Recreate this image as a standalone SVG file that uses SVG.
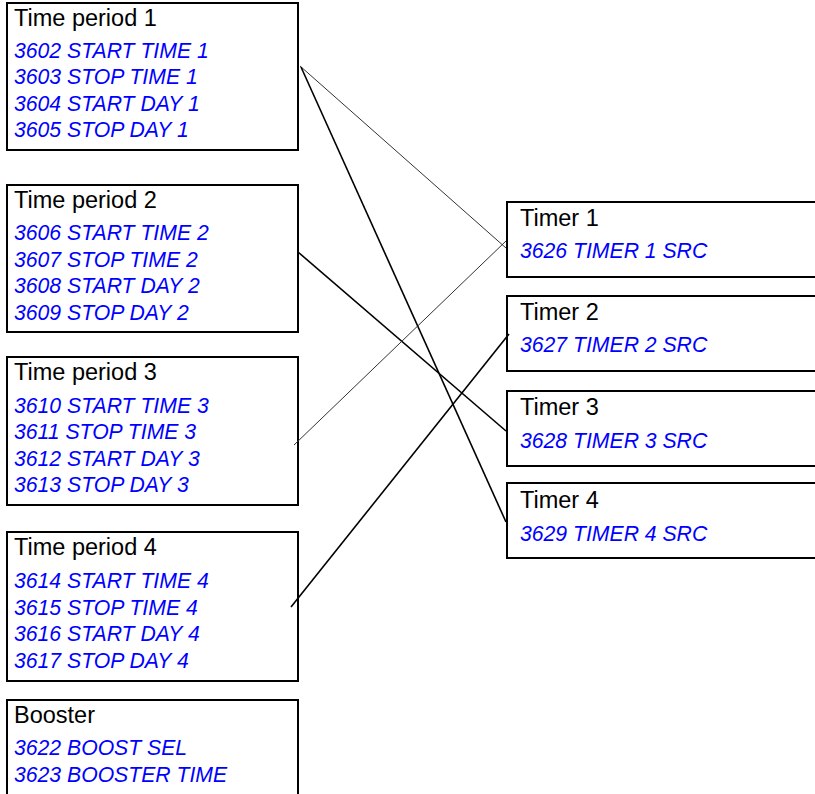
<svg xmlns="http://www.w3.org/2000/svg" width="815" height="794" viewBox="0 0 815 794">
<style>
.box{fill:#fff;stroke:#000;stroke-width:2}
.t{font-family:"Liberation Sans",Arial,sans-serif;font-size:23.5px;fill:#000}
.p{font-family:"Liberation Sans",Arial,sans-serif;font-size:21.2px;font-style:italic;fill:#0000ff}
.thin{stroke:#333;stroke-width:1;fill:none}
.thick{stroke:#000;stroke-width:1.6;fill:none}
</style>
<rect width="815" height="794" fill="#fff"/>
<g id="tp1">
<rect class="box" x="7" y="3" width="291" height="147"/>
<text class="t" x="14" y="26">Time period 1</text>
<text class="p" x="14" y="57.5">3602 START TIME 1</text>
<text class="p" x="14" y="84">3603 STOP TIME 1</text>
<text class="p" x="14" y="110.5">3604 START DAY 1</text>
<text class="p" x="14" y="137">3605 STOP DAY 1</text>
</g>
<g id="tp2">
<rect class="box" x="7" y="185" width="291" height="147"/>
<text class="t" x="14" y="208">Time period 2</text>
<text class="p" x="14" y="240">3606 START TIME 2</text>
<text class="p" x="14" y="266.5">3607 STOP TIME 2</text>
<text class="p" x="14" y="293">3608 START DAY 2</text>
<text class="p" x="14" y="319.5">3609 STOP DAY 2</text>
</g>
<g id="tp3">
<rect class="box" x="7" y="357" width="291" height="148"/>
<text class="t" x="14" y="380">Time period 3</text>
<text class="p" x="14" y="412.5">3610 START TIME 3</text>
<text class="p" x="14" y="439">3611 STOP TIME 3</text>
<text class="p" x="14" y="465.5">3612 START DAY 3</text>
<text class="p" x="14" y="492">3613 STOP DAY 3</text>
</g>
<g id="tp4">
<rect class="box" x="7" y="532" width="291" height="149"/>
<text class="t" x="14" y="555">Time period 4</text>
<text class="p" x="14" y="588">3614 START TIME 4</text>
<text class="p" x="14" y="614.5">3615 STOP TIME 4</text>
<text class="p" x="14" y="641">3616 START DAY 4</text>
<text class="p" x="14" y="667.5">3617 STOP DAY 4</text>
</g>
<g id="booster">
<rect class="box" x="7" y="700" width="291" height="110"/>
<text class="t" x="14" y="723">Booster</text>
<text class="p" x="14" y="755">3622 BOOST SEL</text>
<text class="p" x="14" y="781.5">3623 BOOSTER TIME</text>
</g>
<g id="timer1">
<rect class="box" x="507" y="202" width="320" height="75"/>
<text class="t" x="520" y="226">Timer 1</text>
<text class="p" x="520" y="258">3626 TIMER 1 SRC</text>
</g>
<g id="timer2">
<rect class="box" x="507" y="296" width="320" height="75"/>
<text class="t" x="520" y="320">Timer 2</text>
<text class="p" x="520" y="352">3627 TIMER 2 SRC</text>
</g>
<g id="timer3">
<rect class="box" x="507" y="391" width="320" height="75"/>
<text class="t" x="520" y="415">Timer 3</text>
<text class="p" x="520" y="448">3628 TIMER 3 SRC</text>
</g>
<g id="timer4">
<rect class="box" x="507" y="483" width="320" height="75"/>
<text class="t" x="520" y="508">Timer 4</text>
<text class="p" x="520" y="541">3629 TIMER 4 SRC</text>
</g>
<g id="connectors">
<line class="thin" x1="300" y1="66" x2="506" y2="248"/>
<line class="thick" x1="301" y1="67" x2="506" y2="522"/>
<line class="thick" x1="298" y1="252" x2="506" y2="431"/>
<line class="thin" x1="294" y1="445" x2="506" y2="241"/>
<line class="thick" x1="291" y1="607" x2="509" y2="334"/>
</g>
</svg>
